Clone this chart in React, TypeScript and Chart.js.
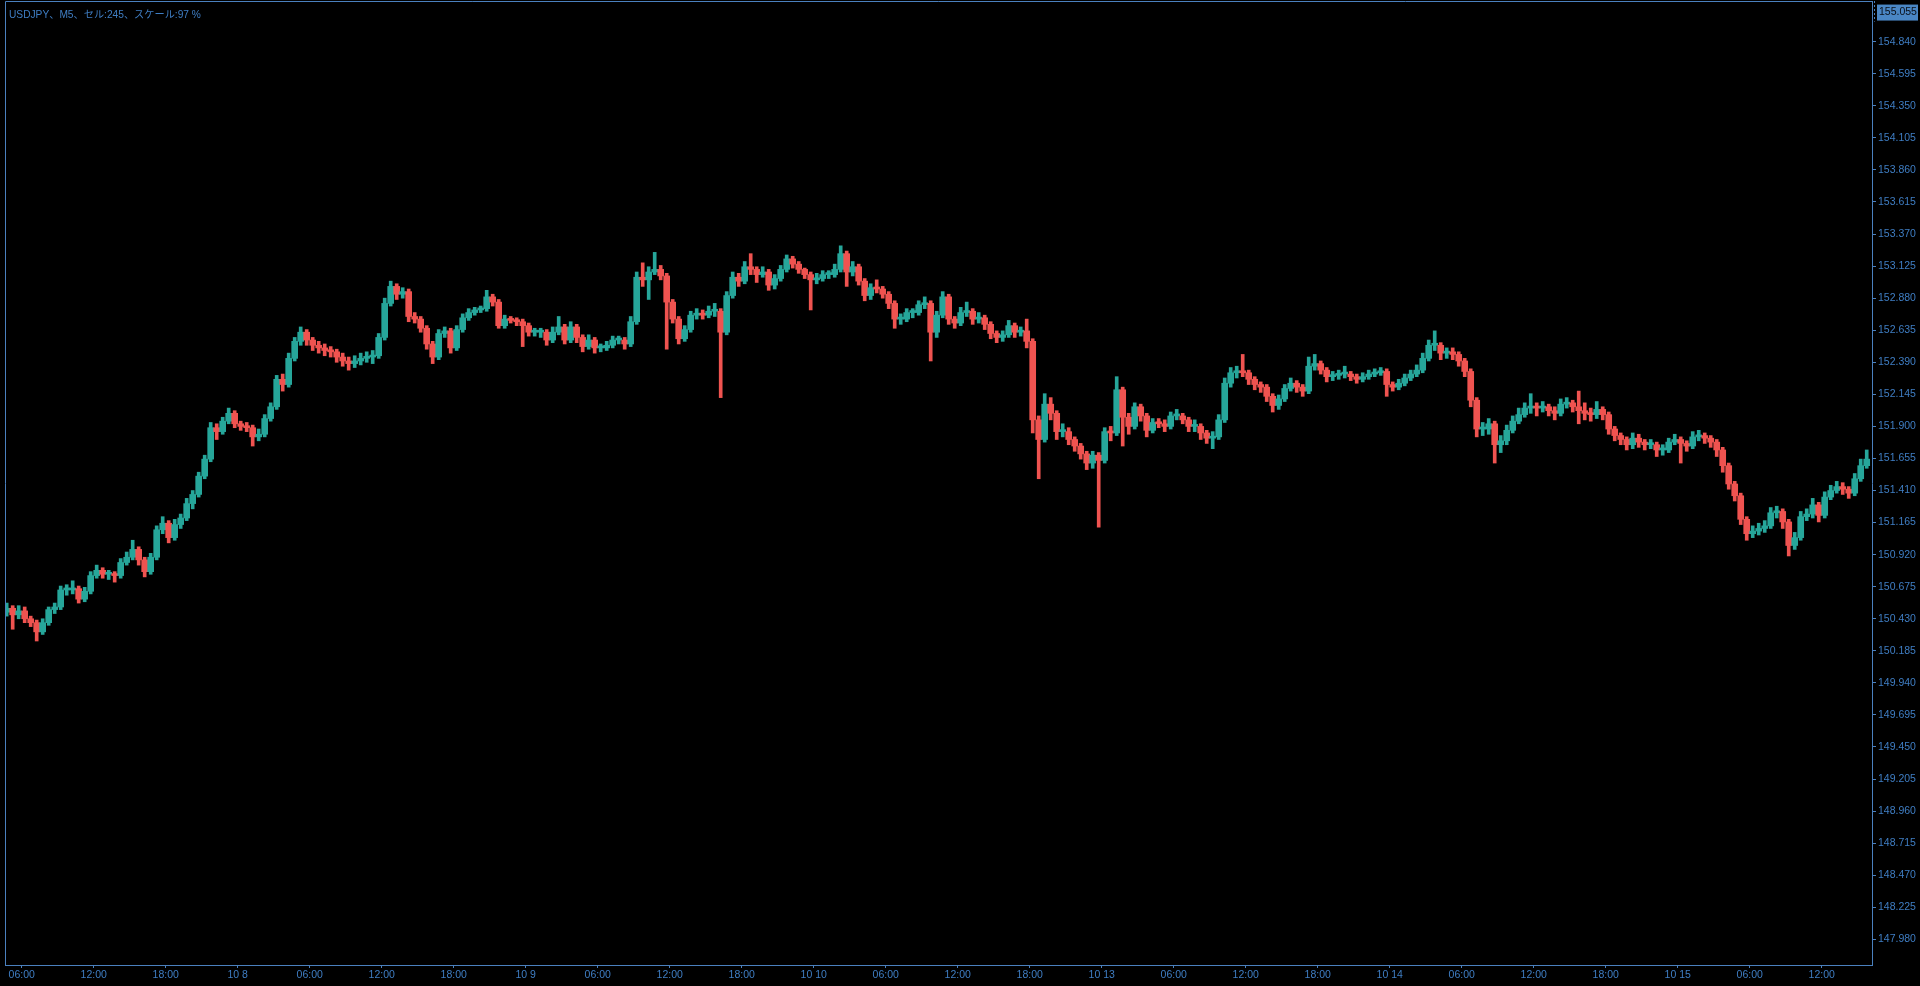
import React, { useEffect, useRef } from "react";
import { Chart, registerables } from "chart.js";

Chart.register(...registerables);

// ---------- text ----------
const chartTitle = "USDJPY、M5、セル:245、スケール:97 %";
const topPriceLabel = 155.055;

// ---------- axes ----------
const xTickLabels = [
  "06:00", "12:00", "18:00", "10 8", "06:00", "12:00", "18:00", "10 9",
  "06:00", "12:00", "18:00", "10 10", "06:00", "12:00", "18:00", "10 13",
  "06:00", "12:00", "18:00", "10 14", "06:00", "12:00", "18:00", "10 15",
  "06:00", "12:00",
];
// trading hours since 10/7 06:00 (weekend gap removed)
const xTickHours = [
  0, 6, 12, 18, 24, 30, 36, 42, 48, 54, 60, 66, 72, 78, 84, 90, 96, 102, 108,
  114, 120, 126, 132, 138, 144, 150,
];
const xMinHour = -1.39;
const xMaxHour = 154.19;

const yTickValues = [
  147.98, 148.225, 148.47, 148.715, 148.96, 149.205, 149.45, 149.695, 149.94,
  150.185, 150.43, 150.675, 150.92, 151.165, 151.41, 151.655, 151.9, 152.145,
  152.39, 152.635, 152.88, 153.125, 153.37, 153.615, 153.86, 154.105, 154.35,
  154.595, 154.84,
];
const yMin = 147.784;
const yMax = 155.151;

// ---------- candles (30-minute steps) ----------
const firstCandleHour = -1.25;
const candleStepHours = 0.5;
const firstOpen = 150.48;

const closes = [
  150.51, 150.46, 150.49, 150.43, 150.40, 150.33, 150.40, 150.50, 150.52, 150.65,
  150.65, 150.66, 150.58, 150.64, 150.76, 150.80, 150.77, 150.77, 150.76, 150.86,
  150.90, 150.96, 150.88, 150.79, 150.90, 151.11, 151.16, 151.05, 151.15, 151.20,
  151.31, 151.38, 151.52, 151.65, 151.89, 151.86, 151.94, 152.00, 151.92, 151.90,
  151.89, 151.82, 151.84, 151.96, 152.05, 152.26, 152.22, 152.42, 152.55, 152.62,
  152.56, 152.52, 152.50, 152.48, 152.47, 152.43, 152.40, 152.38, 152.40, 152.42,
  152.43, 152.44, 152.58, 152.84, 152.97, 152.91, 152.93, 152.74, 152.72, 152.65,
  152.53, 152.43, 152.61, 152.63, 152.50, 152.64, 152.73, 152.77, 152.79, 152.80,
  152.89, 152.85, 152.67, 152.72, 152.71, 152.70, 152.67, 152.62, 152.62, 152.62,
  152.56, 152.62, 152.66, 152.56, 152.66, 152.58, 152.51, 152.56, 152.50, 152.50,
  152.52, 152.56, 152.56, 152.53, 152.70, 153.04, 153.02, 153.08, 153.10, 153.05,
  152.85, 152.72, 152.57, 152.64, 152.75, 152.76, 152.75, 152.78, 152.78, 152.62,
  152.90, 153.04, 153.01, 153.12, 153.10, 153.06, 153.08, 152.98, 153.03, 153.10,
  153.18, 153.14, 153.10, 153.06, 153.02, 153.03, 153.06, 153.06, 153.10, 153.22,
  153.08, 153.12, 153.01, 152.90, 152.96, 152.95, 152.91, 152.84, 152.72, 152.72,
  152.77, 152.77, 152.83, 152.84, 152.62, 152.75, 152.89, 152.72, 152.69, 152.77,
  152.78, 152.72, 152.73, 152.68, 152.61, 152.58, 152.60, 152.67, 152.62, 152.63,
  152.55, 151.95, 151.80, 152.07, 152.00, 151.86, 151.86, 151.80, 151.75, 151.69,
  151.62, 151.68, 151.64, 151.86, 151.85, 152.18, 151.97, 151.90, 152.05, 151.98,
  151.87, 151.93, 151.92, 151.90, 151.98, 151.98, 151.95, 151.90, 151.90, 151.85,
  151.81, 151.82, 151.95, 152.23, 152.31, 152.32, 152.31, 152.26, 152.22, 152.20,
  152.13, 152.06, 152.11, 152.19, 152.23, 152.20, 152.17, 152.36, 152.38, 152.33,
  152.28, 152.29, 152.30, 152.30, 152.28, 152.26, 152.28, 152.30, 152.31, 152.32,
  152.22, 152.20, 152.23, 152.27, 152.30, 152.33, 152.42, 152.52, 152.52, 152.46,
  152.47, 152.45, 152.40, 152.32, 152.10, 151.88, 151.88, 151.92, 151.76, 151.79,
  151.87, 151.94, 151.99, 152.04, 152.05, 152.04, 152.05, 152.02, 152.00, 152.07,
  152.08, 152.05, 152.02, 152.00, 151.99, 152.03, 151.99, 151.88, 151.83, 151.80,
  151.76, 151.81, 151.78, 151.76, 151.76, 151.72, 151.72, 151.78, 151.80, 151.77,
  151.75, 151.82, 151.83, 151.81, 151.78, 151.72, 151.60, 151.46, 151.37, 151.19,
  151.08, 151.10, 151.12, 151.14, 151.24, 151.25, 151.17, 150.99, 151.05, 151.21,
  151.23, 151.30, 151.22, 151.36, 151.41, 151.44, 151.42, 151.39, 151.50, 151.60,
  151.65,
];

const highs = [
  150.55, 150.53, 150.53, 150.52, 150.45, 150.42, 150.43, 150.52, 150.55, 150.68,
  150.69, 150.72, 150.68, 150.67, 150.79, 150.84, 150.82, 150.80, 150.79, 150.89,
  150.94, 151.03, 150.98, 150.90, 150.93, 151.14, 151.21, 151.18, 151.19, 151.23,
  151.35, 151.41, 151.55, 151.68, 151.93, 151.92, 151.97, 152.04, 152.02, 151.94,
  151.93, 151.91, 151.88, 151.99, 152.08, 152.29, 152.30, 152.46, 152.58, 152.66,
  152.64, 152.58, 152.55, 152.53, 152.51, 152.49, 152.46, 152.43, 152.44, 152.46,
  152.47, 152.48, 152.61, 152.88, 153.01, 152.99, 152.96, 152.95, 152.77, 152.74,
  152.67, 152.55, 152.64, 152.66, 152.65, 152.67, 152.76, 152.80, 152.81, 152.82,
  152.94, 152.91, 152.87, 152.75, 152.74, 152.73, 152.72, 152.69, 152.65, 152.65,
  152.64, 152.66, 152.74, 152.68, 152.70, 152.68, 152.60, 152.60, 152.58, 152.53,
  152.55, 152.59, 152.59, 152.58, 152.74, 153.08, 153.15, 153.12, 153.23, 153.13,
  153.07, 152.87, 152.74, 152.67, 152.78, 152.80, 152.79, 152.82, 152.84, 152.80,
  152.93, 153.08, 153.07, 153.16, 153.22, 153.12, 153.12, 153.10, 153.06, 153.13,
  153.21, 153.20, 153.16, 153.11, 153.08, 153.07, 153.09, 153.09, 153.14, 153.28,
  153.24, 153.16, 153.14, 153.03, 152.99, 153.02, 152.97, 152.93, 152.86, 152.76,
  152.80, 152.80, 152.86, 152.89, 152.86, 152.78, 152.93, 152.91, 152.74, 152.81,
  152.85, 152.80, 152.77, 152.75, 152.70, 152.63, 152.63, 152.71, 152.69, 152.66,
  152.72, 152.57, 151.98, 152.15, 152.12, 152.02, 151.92, 151.89, 151.82, 151.77,
  151.71, 151.71, 151.70, 151.89, 151.90, 152.28, 152.20, 152.00, 152.08, 152.07,
  152.00, 151.96, 151.96, 151.95, 152.01, 152.03, 152.00, 151.97, 151.95, 151.92,
  151.87, 151.86, 151.99, 152.27, 152.35, 152.36, 152.45, 152.33, 152.28, 152.24,
  152.22, 152.15, 152.14, 152.22, 152.27, 152.25, 152.22, 152.43, 152.45, 152.40,
  152.35, 152.32, 152.33, 152.36, 152.32, 152.30, 152.31, 152.33, 152.34, 152.35,
  152.34, 152.24, 152.26, 152.30, 152.33, 152.37, 152.46, 152.56, 152.63, 152.54,
  152.50, 152.50, 152.47, 152.42, 152.34, 152.12, 151.93, 151.96, 151.94, 151.83,
  151.91, 151.98, 152.04, 152.08, 152.15, 152.08, 152.09, 152.07, 152.05, 152.11,
  152.12, 152.10, 152.17, 152.08, 152.04, 152.09, 152.05, 152.01, 151.90, 151.85,
  151.82, 151.85, 151.84, 151.80, 151.80, 151.78, 151.76, 151.81, 151.84, 151.82,
  151.79, 151.86, 151.87, 151.85, 151.83, 151.80, 151.74, 151.62, 151.48, 151.39,
  151.21, 151.14, 151.16, 151.18, 151.28, 151.29, 151.27, 151.19, 151.09, 151.25,
  151.27, 151.35, 151.32, 151.40, 151.45, 151.48, 151.47, 151.44, 151.54, 151.65,
  151.72,
];

const lows = [
  150.45, 150.35, 150.43, 150.40, 150.37, 150.26, 150.31, 150.38, 150.47, 150.50,
  150.61, 150.62, 150.55, 150.56, 150.62, 150.74, 150.74, 150.73, 150.71, 150.74,
  150.84, 150.88, 150.84, 150.75, 150.77, 150.88, 151.08, 151.01, 151.03, 151.12,
  151.18, 151.27, 151.36, 151.50, 151.63, 151.80, 151.84, 151.92, 151.89, 151.87,
  151.86, 151.75, 151.79, 151.82, 151.94, 152.03, 152.17, 152.20, 152.40, 152.52,
  152.52, 152.48, 152.46, 152.44, 152.43, 152.39, 152.36, 152.33, 152.35, 152.37,
  152.39, 152.38, 152.42, 152.56, 152.82, 152.87, 152.88, 152.70, 152.69, 152.62,
  152.49, 152.38, 152.41, 152.58, 152.46, 152.48, 152.62, 152.71, 152.75, 152.77,
  152.78, 152.82, 152.65, 152.65, 152.69, 152.67, 152.51, 152.59, 152.59, 152.58,
  152.52, 152.54, 152.60, 152.53, 152.54, 152.54, 152.47, 152.49, 152.46, 152.47,
  152.48, 152.50, 152.53, 152.49, 152.51, 152.68, 152.97, 152.87, 153.06, 153.02,
  152.49, 152.69, 152.53, 152.55, 152.62, 152.72, 152.72, 152.73, 152.74, 152.12,
  152.60, 152.88, 152.97, 152.99, 153.06, 153.00, 153.04, 152.94, 152.95, 153.01,
  153.08, 153.11, 153.07, 153.03, 152.79, 152.99, 153.01, 153.03, 153.04, 153.08,
  152.97, 153.05, 152.98, 152.86, 152.87, 152.92, 152.88, 152.80, 152.65, 152.68,
  152.70, 152.73, 152.75, 152.80, 152.40, 152.58, 152.73, 152.68, 152.65, 152.67,
  152.74, 152.68, 152.69, 152.64, 152.57, 152.54, 152.55, 152.58, 152.58, 152.59,
  152.50, 151.85, 151.50, 151.78, 151.95, 151.80, 151.82, 151.76, 151.71, 151.65,
  151.57, 151.58, 151.13, 151.62, 151.79, 151.83, 151.75, 151.84, 151.88, 151.94,
  151.82, 151.85, 151.89, 151.86, 151.88, 151.95, 151.92, 151.86, 151.86, 151.80,
  151.77, 151.73, 151.80, 151.93, 152.20, 152.27, 152.28, 152.22, 152.18, 152.16,
  152.09, 152.01, 152.03, 152.09, 152.17, 152.16, 152.13, 152.15, 152.33, 152.30,
  152.24, 152.25, 152.26, 152.27, 152.25, 152.23, 152.24, 152.26, 152.28, 152.29,
  152.13, 152.17, 152.18, 152.21, 152.25, 152.28, 152.31, 152.40, 152.48, 152.41,
  152.42, 152.41, 152.36, 152.28, 152.05, 151.82, 151.83, 151.84, 151.62, 151.70,
  151.76, 151.85, 151.92, 151.97, 152.00, 151.98, 152.01, 151.98, 151.95, 151.98,
  152.04, 152.01, 151.92, 151.95, 151.94, 151.96, 151.95, 151.84, 151.79, 151.76,
  151.72, 151.73, 151.74, 151.72, 151.73, 151.67, 151.68, 151.70, 151.76, 151.62,
  151.71, 151.73, 151.79, 151.77, 151.74, 151.67, 151.55, 151.42, 151.33, 151.15,
  151.03, 151.05, 151.07, 151.09, 151.12, 151.20, 151.12, 150.91, 150.96, 151.03,
  151.18, 151.20, 151.17, 151.20, 151.34, 151.39, 151.38, 151.35, 151.37, 151.48,
  151.58,
];

// ---------- style ----------
const UP = "#26a69a";
const DOWN = "#ef5350";
const AXIS = "#4a80be";
const TEXT = "#3f7ec4";
const FONT_FAMILY = "'Liberation Sans', Arial, 'Noto Sans CJK JP', sans-serif";

export default function App() {
  const canvasRef = useRef<HTMLCanvasElement | null>(null);

  useEffect(() => {
    const canvas = canvasRef.current;
    if (!canvas) return;

    const opens = closes.map((_, i) => (i === 0 ? firstOpen : closes[i - 1]));
    const xs = closes.map((_, i) => firstCandleHour + i * candleStepHours);
    const colors = closes.map((c, i) => (c >= opens[i] ? UP : DOWN));
    const hi = highs.map((h, i) => Math.max(h, opens[i], closes[i]));
    const lo = lows.map((l, i) => Math.min(l, opens[i], closes[i]));

    const framePlugin = {
      id: "frame",
      beforeDraw(chart: any) {
        const ctx = chart.ctx;
        ctx.save();
        ctx.fillStyle = "#000000";
        ctx.fillRect(0, 0, chart.width, chart.height);
        ctx.restore();
      },
      afterDraw(chart: any) {
        const { ctx, chartArea } = chart;
        const ys = chart.scales.y;
        ctx.save();
        ctx.strokeStyle = AXIS;
        ctx.lineWidth = 1;
        ctx.beginPath();
        ctx.moveTo(chartArea.left + 0.5, chartArea.bottom);
        ctx.lineTo(chartArea.left + 0.5, chartArea.top + 0.5);
        ctx.lineTo(chartArea.right, chartArea.top + 0.5);
        ctx.stroke();

        // title
        ctx.font = `10.2px ${FONT_FAMILY}`;
        ctx.fillStyle = TEXT;
        ctx.textBaseline = "middle";
        ctx.textAlign = "left";
        ctx.fillText(chartTitle, chartArea.left + 4, chartArea.top + 14);

        // highlighted top price
        ctx.font = `10.5px ${FONT_FAMILY}`;
        const py = ys.getPixelForValue(topPriceLabel);
        const label = topPriceLabel.toFixed(3);
        const bx = chartArea.right + 5;
        ctx.fillStyle = "#4a86c4";
        ctx.fillRect(bx, py - 9, 41, 16);
        ctx.fillStyle = "#0a0f18";
        ctx.fillText(label, bx + 2, py - 1);
        ctx.setLineDash([2, 2]);
        ctx.strokeStyle = AXIS;
        ctx.beginPath();
        ctx.moveTo(chartArea.right + 2.5, chartArea.top);
        ctx.lineTo(chartArea.right + 2.5, py + 8);
        ctx.stroke();
        ctx.restore();
      },
    };

    const chart = new Chart(canvas, {
      type: "bar",
      data: {
        datasets: [
          {
            label: "wick",
            data: xs.map((x, i) => ({ x, y: [lo[i], hi[i]] })) as any,
            backgroundColor: colors,
            borderWidth: 0,
            barThickness: 3,
            grouped: false,
            order: 2,
          } as any,
          {
            label: "body",
            data: xs.map((x, i) => ({ x, y: [opens[i], closes[i]] })) as any,
            backgroundColor: colors,
            borderWidth: 0,
            barThickness: 6,
            minBarLength: 2,
            grouped: false,
            order: 1,
          } as any,
        ],
      },
      options: {
        animation: false,
        responsive: true,
        maintainAspectRatio: false,
        devicePixelRatio: 1,
        layout: { padding: { left: 5, top: 1, right: 0, bottom: 0 } },
        plugins: {
          legend: { display: false },
          tooltip: { enabled: false },
          title: { display: false },
        },
        scales: {
          x: {
            type: "linear",
            position: "bottom",
            min: xMinHour,
            max: xMaxHour,
            offset: false,
            afterBuildTicks: (s: any) => {
              s.ticks = xTickHours.map((v) => ({ value: v }));
            },
            afterFit: (s: any) => {
              s.height = 21;
              s.paddingLeft = 0;
              s.paddingRight = 0;
            },
            ticks: {
              autoSkip: false,
              maxRotation: 0,
              minRotation: 0,
              padding: 1,
              color: TEXT,
              font: { family: FONT_FAMILY, size: 10.5 },
              callback: (_v: any, i: number) => xTickLabels[i],
            },
            grid: {
              display: true,
              offset: false,
              drawOnChartArea: false,
              drawTicks: true,
              tickLength: 3,
              color: AXIS,
            },
            border: { display: true, color: AXIS, width: 1 },
          } as any,
          y: {
            type: "linear",
            position: "right",
            min: yMin,
            max: yMax,
            afterBuildTicks: (s: any) => {
              s.ticks = yTickValues.map((v) => ({ value: v }));
            },
            afterFit: (s: any) => {
              s.width = 48;
              s.paddingTop = 0;
              s.paddingBottom = 0;
            },
            ticks: {
              autoSkip: false,
              padding: 2,
              color: TEXT,
              font: { family: FONT_FAMILY, size: 10.5 },
              callback: (v: any) => Number(v).toFixed(3),
            },
            grid: {
              display: true,
              drawOnChartArea: false,
              drawTicks: true,
              tickLength: 4,
              color: AXIS,
            },
            border: { display: true, color: AXIS, width: 1 },
          } as any,
        },
      },
      plugins: [framePlugin],
    });

    return () => chart.destroy();
  }, []);

  return (
    <div
      style={{
        position: "fixed",
        left: 0,
        top: 0,
        width: "1920px",
        height: "986px",
        background: "#000",
      }}
    >
      <canvas ref={canvasRef} />
    </div>
  );
}
